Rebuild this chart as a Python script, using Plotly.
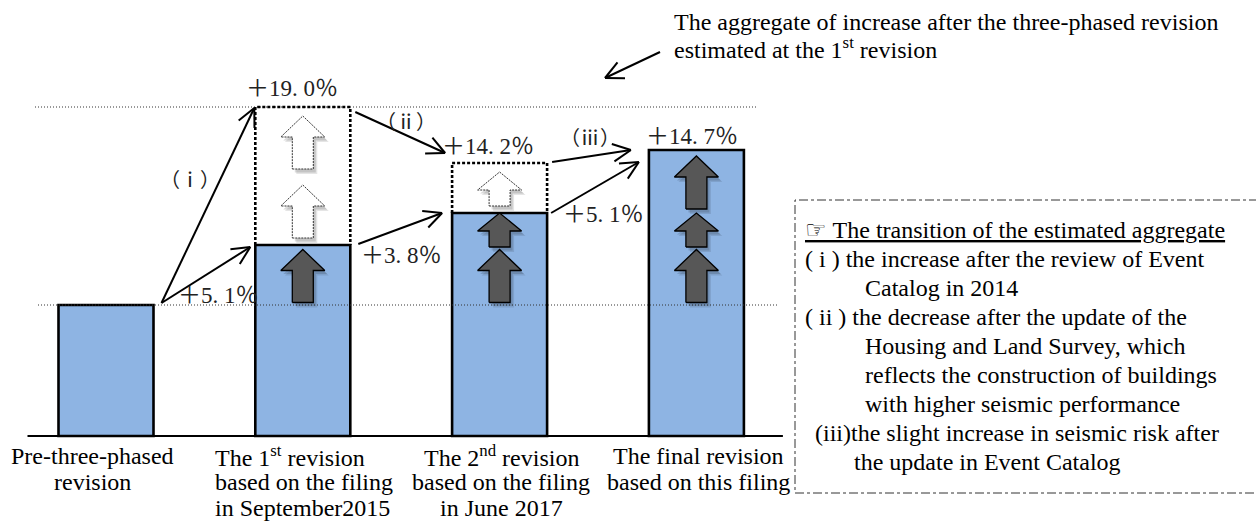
import math
import plotly.graph_objects as go

# ---------------- data ----------------
categories = [
    ["Pre-three-phased", "revision"],
    ["The 1<sup>st</sup> revision", "based on the filing", "in September2015"],
    ["The 2<sup>nd</sup> revision", "based on the filing", "in June 2017"],
    ["The final revision", "based on this filing"],
]
bar_height = [131, 191, 223, 286]          # drawn bar heights (chart units)
estimate_top = [None, 329, 273, None]      # dotted "estimated aggregate" boxes
hollow_arrows = [0, 2, 1, 0]               # white arrows inside each dotted box
change_labels = ["＋5. 1％", "＋19. 0％", "＋3. 8％", "＋14. 2％", "＋5. 1％", "＋14. 7％"]
step_labels = ["（ⅰ）", "（ⅱ）", "（ⅲ）"]
top_note = ["The aggregate of increase after the three-phased revision",
            "estimated at the 1<sup>st</sup> revision"]
note_lines = [
    "<u>☞ The transition of the estimated aggregate</u>",
    "( i ) the increase after the review of Event",
    "Catalog in 2014",
    "( ii ) the decrease after the update of the",
    "Housing and Land Survey, which",
    "reflects the construction of buildings",
    "with higher seismic performance",
    "(iii)the slight increase in seismic risk after",
    "the update in Event Catalog",
]

# ---------------- layout geometry (pixels) ----------------
W, H = 1256, 522
BASE = 436                       # pixel row of the baseline


def Y(py):                       # pixel row -> chart units
    return BASE - py


BAR_X0, BAR_STEP, BAR_W = 106, 196.8, 95
n = len(bar_height)
cx = [BAR_X0 + BAR_STEP * i for i in range(n)]
left = [c - BAR_W / 2 for c in cx]
right = [c + BAR_W / 2 for c in cx]

SERIF = "Liberation Serif, Times New Roman, serif"
MIXED = "Liberation Serif, Noto Sans CJK JP, serif"
BAR_FILL = "#8EB4E3"

fig = go.Figure()

# bars
fig.add_trace(go.Bar(x=cx, y=bar_height, width=BAR_W,
                     marker=dict(color=BAR_FILL, line=dict(color="black", width=2.6)),
                     hoverinfo="skip"))

# baseline
fig.add_trace(go.Scatter(x=[left[0] - 31, right[-1] + 39], y=[0, 0], mode="lines",
                         line=dict(color="black", width=2), hoverinfo="skip"))

# dotted reference lines
fig.add_trace(go.Scatter(x=[35, 758], y=[estimate_top[1]] * 2, mode="lines",
                         line=dict(color="#333", width=1, dash="1px,2px"), hoverinfo="skip"))
fig.add_trace(go.Scatter(x=[38, 777], y=[bar_height[0]] * 2, mode="lines",
                         line=dict(color="#333", width=1, dash="1px,2px"), hoverinfo="skip"))

# dotted estimate boxes
for i, e in enumerate(estimate_top):
    if e is None:
        continue
    fig.add_trace(go.Scatter(x=[left[i], left[i], right[i], right[i]],
                             y=[bar_height[i], e, e, bar_height[i]], mode="lines",
                             line=dict(color="black", width=2.6, dash="3px,2px"),
                             hoverinfo="skip"))


# block arrows
def block_arrow(c, lo, hi):
    L = hi - lo
    head = 21 if L > 45 else 18
    sw, hw = 10.5, 22
    xs = [c - sw, c + sw, c + sw, c + hw, c, c - hw, c - sw, c - sw]
    ys = [lo, lo, hi - head, hi - head, hi, hi - head, hi - head, lo]
    return xs, ys


def arrow_in(lo_seg, hi_seg):
    seg = hi_seg - lo_seg
    L = 53 if seg >= 55 else 34
    mid = (lo_seg + hi_seg) / 2 - 1
    return mid - L / 2, mid + L / 2


arrows = []
for i in range(1, n):
    for k in range(i):
        arrows.append((i, bar_height[k], bar_height[k + 1], "solid"))
    if estimate_top[i] is not None:
        m = hollow_arrows[i]
        span = (estimate_top[i] - bar_height[i]) / m
        for k in range(m):
            arrows.append((i, bar_height[i] + span * k, bar_height[i] + span * (k + 1), "hollow"))

for (i, a, b, kind) in arrows:
    lo, hi = arrow_in(a, b)
    xs, ys = block_arrow(cx[i], lo, hi)
    for off, op in ((4, 0.10), (2.5, 0.14)):
        fig.add_trace(go.Scatter(x=[v + off for v in xs], y=[v - off - 1 for v in ys],
                                 mode="lines", fill="toself", line=dict(width=0),
                                 fillcolor=f"rgba(0,0,0,{op})", hoverinfo="skip"))
    if kind == "solid":
        fig.add_trace(go.Scatter(x=xs, y=ys, mode="lines", fill="toself",
                                 fillcolor="#575757", line=dict(color="black", width=1.3),
                                 hoverinfo="skip"))
    else:
        fig.add_trace(go.Scatter(x=xs, y=ys, mode="lines", fill="toself",
                                 fillcolor="white", line=dict(color="#333", width=1, dash="2px,1px"),
                                 hoverinfo="skip"))

# connecting line arrows (tail -> head), in chart units
connectors = [
    ((right[0] + 8, bar_height[0] + 2), (left[1] - 1, estimate_top[1] - 1)),
    ((right[0] + 8, bar_height[0] + 2), (left[1] - 5, bar_height[1] - 2)),
    ((right[1] + 5, estimate_top[1] - 5), (left[2] - 7, estimate_top[2] + 10)),
    ((right[1] + 8, bar_height[1] + 1), (left[2] - 10, bar_height[2])),
    ((right[2] + 5, estimate_top[2] + 1), (left[3] - 18, bar_height[3])),
    ((right[2] + 4, bar_height[2]), (left[3] - 10, estimate_top[2] + 1)),
    ((660, Y(52)), (605, Y(78))),
]
lx, ly = [], []
ARM, ANG = 20, math.radians(26)
for (tx, ty), (hx, hy) in connectors:
    lx += [tx, hx, None]
    ly += [ty, hy, None]
    dx, dy = hx - tx, hy - ty
    d = math.hypot(dx, dy)
    ux, uy = dx / d, dy / d
    for s in (1, -1):
        ca, sa = math.cos(s * ANG), math.sin(s * ANG)
        rx, ry = ux * ca - uy * sa, ux * sa + uy * ca
        lx += [hx - ARM * rx, hx, None]
        ly += [hy - ARM * ry, hy, None]
fig.add_trace(go.Scatter(x=lx, y=ly, mode="lines", line=dict(color="black", width=2),
                         hoverinfo="skip"))

annotations = []


def text(x, y, t, size=24, family=SERIF, xanchor="left", color="black"):
    annotations.append(dict(x=x, y=y, xref="x", yref="y", text=t, showarrow=False,
                            xanchor=xanchor, yanchor="middle",
                            font=dict(family=family, size=size, color=color)))


# percentage labels
change_pos = [(176, 295), (244, 88), (359, 255), (440, 146), (561, 214), (644, 136)]
for t, (px, py) in zip(change_labels, change_pos):
    text(px, Y(py), t, size=23, family=MIXED, color="#222")

# step labels
step_pos = [(190, 180), (406, 122), (590, 138)]
for t, (px, py) in zip(step_labels, step_pos):
    text(px, Y(py), t, size=20, family=MIXED, xanchor="center", color="#222")

# category labels
cat_anchor = [(92, "center"), (213, "left"), (501, "center"), (698, "center")]
cat_rows = [456, 482, 508]
for lines, (px, anc) in zip(categories, cat_anchor):
    for k, t in enumerate(lines):
        text(px, Y(cat_rows[k]), t, xanchor=anc)

# top note
for k, t in enumerate(top_note):
    text(672, Y(22 + 26 * k), t)

# legend note lines
note_x = [803, 803, 863, 803, 863, 863, 863, 813, 852]
for k, (t, px) in enumerate(zip(note_lines, note_x)):
    text(px, Y(230 + 29 * k), t)

fig.update_layout(
    width=W, height=H,
    margin=dict(l=0, r=0, t=0, b=0),
    paper_bgcolor="white", plot_bgcolor="white",
    showlegend=False,
    barmode="overlay",
    xaxis=dict(range=[0, W], visible=False, fixedrange=True),
    yaxis=dict(range=[BASE - H, BASE], visible=False, fixedrange=True),
    annotations=annotations,
    shapes=[dict(type="rect", xref="x", yref="y", x0=795, x1=W + 20, y0=Y(493), y1=Y(200),
                 line=dict(color="#333", width=1, dash="9px,3px,3px,3px"), layer="below")],
)

fig.write_html("out.html", config={"displayModeBar": False},
               post_script="document.body.style.margin='0px';document.body.style.overflow='hidden';")
